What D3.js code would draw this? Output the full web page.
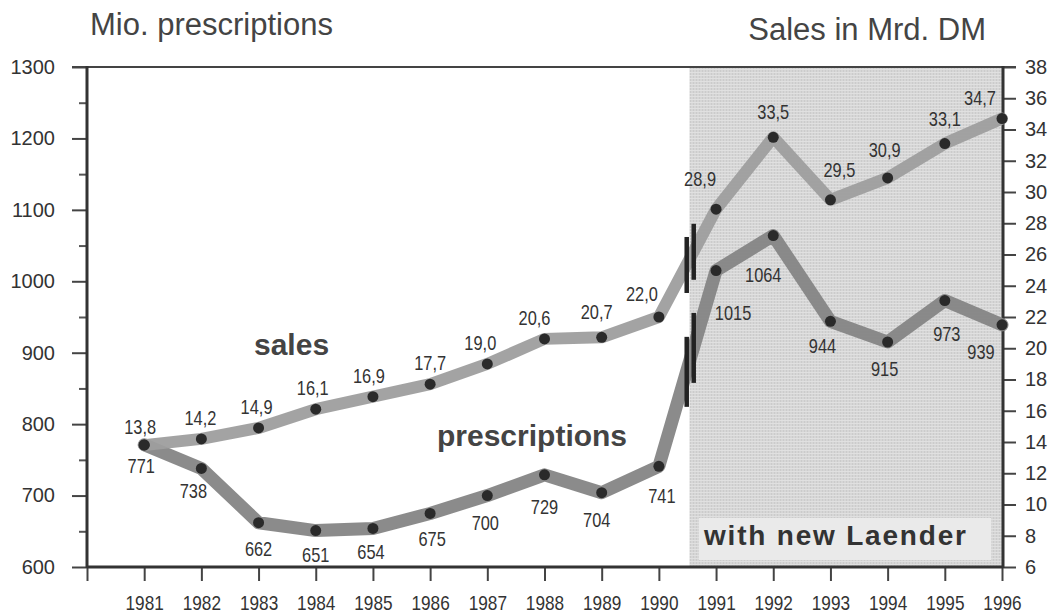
<!DOCTYPE html>
<html>
<head>
<meta charset="utf-8">
<script src="https://cdn.jsdelivr.net/npm/d3@7"></script>
<style>
  html, body { margin: 0; padding: 0; background: #fff; }
  svg { display: block; }
</style>
</head>
<body>
<svg id="chart" width="1056" height="614"></svg>
<script>
// ---- data ----
const years = [1981, 1982, 1983, 1984, 1985, 1986, 1987, 1988, 1989, 1990, 1991, 1992, 1993, 1994, 1995, 1996];
const sales = [13.8, 14.2, 14.9, 16.1, 16.9, 17.7, 19.0, 20.6, 20.7, 22.0, 28.9, 33.5, 29.5, 30.9, 33.1, 34.7];
const prescriptions = [771, 738, 662, 651, 654, 675, 700, 729, 704, 741, 1015, 1064, 944, 915, 973, 939];
const salesLabels = ["13,8", "14,2", "14,9", "16,1", "16,9", "17,7", "19,0", "20,6", "20,7", "22,0", "28,9", "33,5", "29,5", "30,9", "33,1", "34,7"];
const prescriptionLabels = ["771", "738", "662", "651", "654", "675", "700", "729", "704", "741", "1015", "1064", "944", "915", "973", "939"];
const xTicks = [1980, 1981, 1982, 1983, 1984, 1985, 1986, 1987, 1988, 1989, 1990, 1991, 1992, 1993, 1994, 1995, 1996];
const leftTicks = [600, 700, 800, 900, 1000, 1100, 1200, 1300];
const leftMinorTicks = [650, 750, 850, 950, 1050, 1150, 1250];
const rightTicks = [6, 8, 10, 12, 14, 16, 18, 20, 22, 24, 26, 28, 30, 32, 34, 36, 38];
const breakYear = 1990.5;
const newLaenderStart = 1990.5;

// ---- label layout (offsets from point to label centre) ----
const salesLabelOffsets = [[-4,-18],[-1,-21],[-2,-21],[-3,-21],[-4,-21],[0,-21],[-7,-21],[-10,-21],[-5,-25],[-17,-23],[-16,-30],[0,-25],[9,-30],[-3,-28],[0,-25],[-22,-21]];
const prescLabelOffsets = [[-3,21],[-8,23],[0,26],[0,24],[-2,24],[2,26],[-2,27],[0,32],[-5,27],[3,30],[17,42],[-10,39],[-8,25],[-3,27],[2,33],[-21,27]];

const svg = d3.select("#chart");
const X0 = 87, X1 = 1003, Y0 = 67, Y1 = 567;

const x = d3.scaleLinear().domain([1980, 1996]).range([X0, X1 - 1]);
const yL = d3.scaleLinear().domain([600, 1300]).range([Y1, Y0]);
const yR = d3.scaleLinear().domain([6, 38]).range([Y1, Y0]);

const sans = "'Liberation Sans', Arial, Helvetica, sans-serif";
const textCol = "#333";
const condense = 0.82;

// texture pattern for shaded area
const defs = svg.append("defs");
const pat = defs.append("pattern").attr("id", "grain").attr("width", 3).attr("height", 3).attr("patternUnits", "userSpaceOnUse");
pat.append("rect").attr("width", 3).attr("height", 3).attr("fill", "#d6d6d6");
pat.append("rect").attr("width", 1).attr("height", 3).attr("fill", "#cbcbcb");
pat.append("rect").attr("width", 3).attr("height", 1).attr("fill", "#e0e0e0");

// shaded "new Laender" region
svg.append("rect")
  .attr("x", x(newLaenderStart) + 2).attr("y", Y0)
  .attr("width", X1 - x(newLaenderStart) - 2).attr("height", Y1 - Y0)
  .attr("fill", "url(#grain)");

// box with text
svg.append("rect")
  .attr("x", 699).attr("y", 518).attr("width", 292).attr("height", 42)
  .attr("fill", "#eaeaea");
svg.append("text")
  .attr("x", 704).attr("y", 545)
  .attr("font-family", sans).attr("font-weight", "bold").attr("font-size", 28)
  .attr("letter-spacing", 1.8)
  .attr("fill", "#333")
  .text("with new Laender");

// ---- axes ----
const bottomAxis = d3.axisBottom(x).tickValues(xTicks).tickFormat(d => d === 1980 ? "" : String(d)).tickSize(14).tickPadding(14);
const gb = svg.append("g").attr("transform", `translate(0,${Y1})`).call(bottomAxis);
gb.select(".domain").remove();
gb.selectAll(".tick line").attr("stroke", "#444").attr("stroke-width", 2);
gb.selectAll(".tick text").attr("font-family", sans).attr("font-size", 21).attr("fill", textCol)
  .attr("transform", `scale(${condense},1)`);

const leftAxis = d3.axisLeft(yL).tickValues(leftTicks).tickFormat(d => String(d)).tickSize(15).tickPadding(17);
const gl = svg.append("g").attr("transform", `translate(${X0},0)`).call(leftAxis);
gl.select(".domain").remove();
gl.selectAll(".tick line").attr("stroke", "#444").attr("stroke-width", 2);
gl.selectAll(".tick text").attr("font-family", sans).attr("font-size", 20).attr("fill", textCol);

const leftMinor = d3.axisLeft(yL).tickValues(leftMinorTicks).tickSize(8).tickFormat("");
const glm = svg.append("g").attr("transform", `translate(${X0},0)`).call(leftMinor);
glm.select(".domain").remove();
glm.selectAll(".tick line").attr("stroke", "#555").attr("stroke-width", 2);

const rightAxis = d3.axisRight(yR).tickValues(rightTicks).tickFormat(d => String(d)).tickSize(13).tickPadding(9);
const gr = svg.append("g").attr("transform", `translate(${X1},0)`).call(rightAxis);
gr.select(".domain").remove();
gr.selectAll(".tick line").attr("stroke", "#444").attr("stroke-width", 2);
gr.selectAll(".tick text").attr("font-family", sans).attr("font-size", 20).attr("fill", textCol);

// frame
svg.append("line").attr("x1", 72).attr("x2", 1016).attr("y1", Y0).attr("y2", Y0).attr("stroke", "#444").attr("stroke-width", 2);
svg.append("line").attr("x1", X0).attr("x2", X0).attr("y1", Y0 - 1).attr("y2", Y1 + 1).attr("stroke", "#333").attr("stroke-width", 3);
svg.append("line").attr("x1", X1).attr("x2", X1).attr("y1", Y0 - 1).attr("y2", Y1 + 1).attr("stroke", "#333").attr("stroke-width", 3);
svg.append("line").attr("x1", X0).attr("x2", X1).attr("y1", Y1).attr("y2", Y1).attr("stroke", "#333").attr("stroke-width", 3);

// ---- lines ----
const prescData = years.map((yr, i) => ({ yr, v: prescriptions[i] }));
const salesData = years.map((yr, i) => ({ yr, v: sales[i] }));

const lineP = d3.line().x(d => x(d.yr)).y(d => yL(d.v));
const lineS = d3.line().x(d => x(d.yr)).y(d => yR(d.v));

svg.append("path").datum(prescData).attr("d", lineP)
  .attr("fill", "none").attr("stroke", "#858585").attr("stroke-width", 13)
  .attr("stroke-linejoin", "round").attr("stroke-linecap", "round").attr("opacity", 0.95);
svg.append("path").datum(salesData).attr("d", lineS)
  .attr("fill", "none").attr("stroke", "#9e9e9e").attr("stroke-width", 12)
  .attr("stroke-linejoin", "round").attr("stroke-linecap", "round").attr("opacity", 0.95);

// break marks on the lines between 1990 and 1991
function interpY(data, scale, xv) {
  const i = data.findIndex(d => d.yr > xv);
  const a = data[i - 1], b = data[i];
  const t = (xv - a.yr) / (b.yr - a.yr);
  return scale(a.v) + t * (scale(b.v) - scale(a.v));
}
function drawBreak(data, scale, half) {
  const xa = x(breakYear) - 1, xb = x(breakYear) + 6;
  [xa, xb].forEach(px => {
    const yv = interpY(data, scale, x.invert(px));
    svg.append("rect").attr("x", px - 2).attr("y", yv - half).attr("width", 4.5).attr("height", half * 2).attr("fill", "#222");
  });
}
drawBreak(salesData, yR, 28);
drawBreak(prescData, yL, 35);

// dots
svg.append("g").selectAll("circle").data(prescData).join("circle")
  .attr("cx", d => x(d.yr)).attr("cy", d => yL(d.v)).attr("r", 5.5).attr("fill", "#2a2a2a");
svg.append("g").selectAll("circle").data(salesData).join("circle")
  .attr("cx", d => x(d.yr)).attr("cy", d => yR(d.v)).attr("r", 5.5).attr("fill", "#2a2a2a");

// value labels (condensed via horizontal scaling)
svg.append("g").selectAll("text").data(salesData).join("text")
  .attr("transform", (d, i) => `translate(${x(d.yr) + salesLabelOffsets[i][0]},${yR(d.v) + salesLabelOffsets[i][1]}) scale(${condense},1)`)
  .attr("dy", "0.35em").attr("text-anchor", "middle")
  .attr("font-family", sans).attr("font-size", 20).attr("fill", textCol)
  .text((d, i) => salesLabels[i]);
svg.append("g").selectAll("text").data(prescData).join("text")
  .attr("transform", (d, i) => `translate(${x(d.yr) + prescLabelOffsets[i][0]},${yL(d.v) + prescLabelOffsets[i][1]}) scale(${condense},1)`)
  .attr("dy", "0.35em").attr("text-anchor", "middle")
  .attr("font-family", sans).attr("font-size", 20).attr("fill", textCol)
  .text((d, i) => prescriptionLabels[i]);

// series names
svg.append("text").attr("x", 254).attr("y", 355)
  .attr("font-family", sans).attr("font-weight", "bold").attr("font-size", 30).attr("fill", "#444")
  .text("sales");
svg.append("text").attr("x", 437).attr("y", 446)
  .attr("font-family", sans).attr("font-weight", "bold").attr("font-size", 30).attr("fill", "#444")
  .text("prescriptions");

// axis titles
svg.append("text").attr("x", 90).attr("y", 35)
  .attr("font-family", sans).attr("font-size", 31).attr("fill", "#444")
  .text("Mio. prescriptions");
svg.append("text").attr("x", 986).attr("y", 40).attr("text-anchor", "end")
  .attr("font-family", sans).attr("font-size", 31).attr("fill", "#444")
  .text("Sales in Mrd. DM");
</script>
</body>
</html>
